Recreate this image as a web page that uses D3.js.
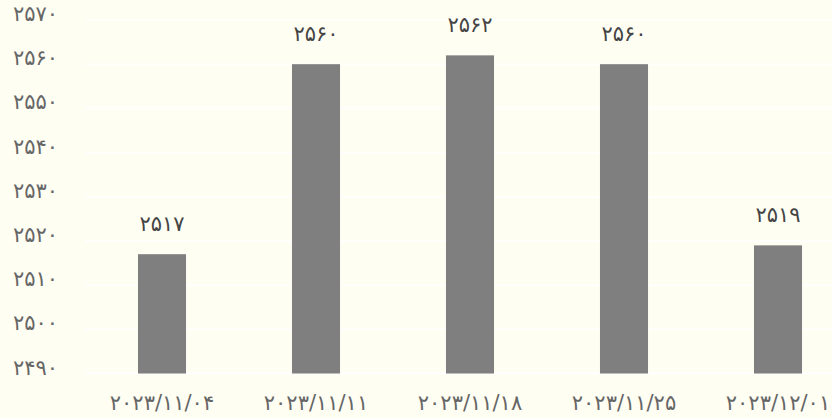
<!DOCTYPE html>
<html>
<head>
<meta charset="utf-8">
<script src="https://cdn.jsdelivr.net/npm/d3@7"></script>
<style>
  html, body { margin: 0; padding: 0; background: #fffef3; overflow: hidden; }
  text { font-family: "DejaVu Sans", sans-serif; }
</style>
</head>
<body>
<script>
// weekly values
var dates = ['2023/11/04', '2023/11/11', '2023/11/18', '2023/11/25', '2023/12/01'];
var values = [2517, 2560, 2562, 2560, 2519];
var yTicks = [2490, 2500, 2510, 2520, 2530, 2540, 2550, 2560, 2570];

var width = 832, height = 418;

// latin digits -> persian digits
var fa = function(s) {
  return String(s).replace(/[0-9]/g, function(c) { return '۰۱۲۳۴۵۶۷۸۹'[+c]; });
};

var svg = d3.select('body').append('svg')
  .attr('width', width)
  .attr('height', height)
  .style('background-color', '#fffef3');

var x = d3.scaleBand()
  .domain(dates)
  .range([85, 855])
  .paddingInner(0.688)
  .paddingOuter(0.344);

var y = d3.scaleLinear()
  .domain([2490, 2570])
  .range([373.5, 20]);

// grid
svg.append('g').selectAll('line')
  .data(yTicks)
  .enter()
  .append('line')
  .attr('x1', 85)
  .attr('x2', width)
  .attr('y1', function(d) { return y(d); })
  .attr('y2', function(d) { return y(d); })
  .style('stroke', '#ffffff')
  .style('stroke-width', 1.5);

// y labels
svg.append('g').selectAll('text')
  .data(yTicks)
  .enter()
  .append('text')
  .attr('x', 58)
  .attr('y', function(d) { return y(d) + 1; })
  .attr('text-anchor', 'end')
  .attr('fill', '#666666')
  .attr('font-size', 21)
  .text(function(d) { return fa(d); });

// bars
svg.append('g').selectAll('rect')
  .data(values)
  .enter()
  .append('rect')
  .attr('x', function(d, i) { return x(dates[i]); })
  .attr('width', x.bandwidth())
  .attr('y', function(d) { return y(d); })
  .attr('height', function(d) { return y(2490) - y(d); })
  .style('fill', '#7f7f7f');

// value labels
svg.append('g').selectAll('text')
  .data(values)
  .enter()
  .append('text')
  .attr('x', function(d, i) { return x(dates[i]) + x.bandwidth() / 2; })
  .attr('y', function(d) { return y(d) - 23; })
  .attr('text-anchor', 'middle')
  .attr('fill', '#444444')
  .attr('font-size', 21)
  .text(function(d) { return fa(d); });

// x labels
svg.append('g').selectAll('text')
  .data(dates)
  .enter()
  .append('text')
  .attr('x', function(d) { return x(d) + x.bandwidth() / 2; })
  .attr('y', 410)
  .attr('text-anchor', 'middle')
  .attr('fill', '#666666')
  .attr('font-size', 21)
  .style('direction', 'ltr')
  .style('unicode-bidi', 'embed')
  .text(function(d) { return fa(d); });
</script>
</body>
</html>
